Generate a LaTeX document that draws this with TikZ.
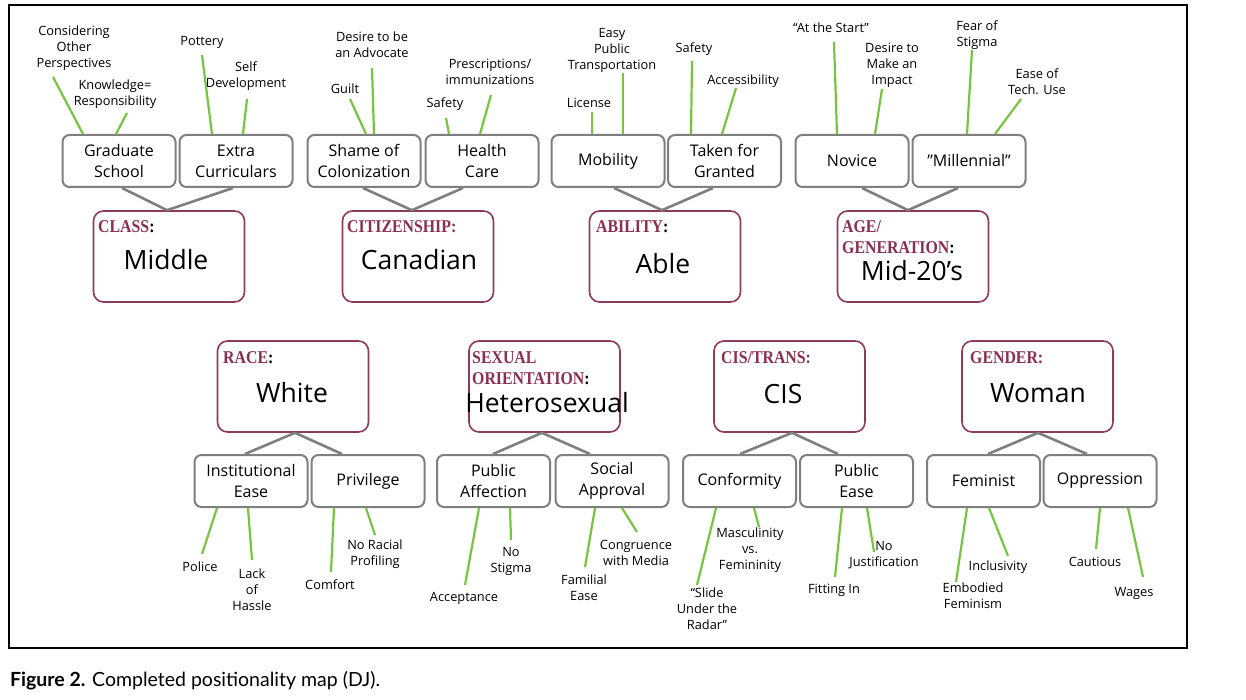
\documentclass[tikz,border=0pt]{standalone}
\usepackage{fontspec}
\setmainfont{Open Sans}
\newfontfamily\catfont[FakeStretch=0.88]{Liberation Serif}
\newfontfamily\capfont{Lato}
\usetikzlibrary{calc}
\definecolor{maroon}{HTML}{8E3A59}
\definecolor{catred}{HTML}{8B2F50}
\definecolor{boxgray}{HTML}{7F7F7F}
\definecolor{leafgreen}{HTML}{78C440}
\begin{document}
\begin{tikzpicture}[x=1pt,y=-1pt,
  catbox/.style={draw=maroon,line width=1.6pt,rounded corners=10pt,fill=white,minimum width=151pt,minimum height=91pt,inner sep=0pt},
  subbox/.style={draw=boxgray,line width=2pt,rounded corners=7pt,fill=white,minimum width=113pt,minimum height=52pt,inner sep=0pt,align=center,font=\fontsize{16}{21}\selectfont},
  cattitle/.style={anchor=base west,inner sep=0pt,font=\catfont\bfseries\fontsize{18}{21}\selectfont,text=catred,align=left},
  catvalue/.style={anchor=base,inner sep=0pt,font=\fontsize{26.5}{30}\selectfont},
  leaf/.style={align=center,inner sep=0pt,font=\fontsize{12.8}{16}\selectfont},
  leafline/.style={draw=leafgreen,line width=2.2pt},
  trunk/.style={draw=boxgray,line width=2.6pt}
]
\useasboundingbox (0,0) rectangle (1246,700);
\draw[line width=1.3pt] (9,5) rectangle (1187,648);

% category boxes
\node[catbox] (class) at (169,256.5) {};
\node[catbox] (cit) at (418,256.5) {};
\node[catbox] (abi) at (665,256.5) {};
\node[catbox] (age) at (913,256.5) {};
\node[catbox] (race) at (293,386.5) {};
\node[catbox] (sex) at (544.5,386.5) {};
\node[catbox] (cis) at (789.5,386.5) {};
\node[catbox] (gen) at (1037.5,386.5) {};

% category titles (base = baseline of last line)
\node[cattitle] (tclass) at (98,233) {CLASS\textcolor{black}{:}};
\node[cattitle] (tcit) at (347,233) {CITIZENSHIP:};
\node[cattitle] (tabi) at (596,233) {ABILITY\textcolor{black}{:}};
\node[cattitle] (tage) at (842,254) {AGE/\\GENERATION\textcolor{black}{:}};
\node[cattitle] (trace) at (223,363) {RACE\textcolor{black}{:}};
\node[cattitle] (tsex) at (472,384) {SEXUAL\\ORIENTATION\textcolor{black}{:}};
\node[cattitle] (tcis) at (721,363) {CIS/TRANS:};
\node[cattitle] (tgen) at (970,363) {GENDER:};

% category values
\node[catvalue] (vclass) at (166,270) {Middle};
\node[catvalue] (vcit) at (419,270) {Canadian};
\node[catvalue] (vabi) at (663,273) {Able};
\node[catvalue] (vage) at (912,280) {Mid-20’s};
\node[catvalue] (vrace) at (292,402) {White};
\node[catvalue] (vsex) at (547,412) {Heterosexual};
\node[catvalue] (vcis) at (783,403) {CIS};
\node[catvalue] (vgen) at (1038,402) {Woman};

% sub boxes
\node[subbox] (gs) at (119,161) {Graduate\\School};
\node[subbox] (ec) at (236,161) {Extra\\Curriculars};
\node[subbox] (sc) at (364,161) {Shame of\\Colonization};
\node[subbox] (hc) at (482,161) {Health\\Care};
\node[subbox] (mo) at (608,161) {Mobility};
\node[subbox] (tg) at (724.5,161) {Taken for\\Granted};
\node[subbox] (no) at (852,161) {Novice};
\node[subbox] (mi) at (969,161) {”Millennial”};
\node[subbox] (ie) at (251,481) {Institutional\\Ease};
\node[subbox] (pr) at (368,481) {Privilege};
\node[subbox] (pa) at (493.5,481) {Public\\Affection};
\node[subbox] (sa) at (612,481) {Social\\Approval};
\node[subbox] (co) at (739.5,481) {Conformity};
\node[subbox] (pe) at (856.5,481) {Public\\Ease};
\node[subbox] (fe) at (983.5,481) {Feminist};
\node[subbox] (op) at (1100,481) {Oppression};

% trunk connectors
\draw[trunk] (167,0 |- class.north) -- (122,0 |- gs.south);
\draw[trunk] (167,0 |- class.north) -- (233,0 |- ec.south);
\draw[trunk] (412,0 |- cit.north) -- (363,0 |- sc.south);
\draw[trunk] (412,0 |- cit.north) -- (463,0 |- hc.south);
\draw[trunk] (662,0 |- abi.north) -- (614,0 |- mo.south);
\draw[trunk] (662,0 |- abi.north) -- (713,0 |- tg.south);
\draw[trunk] (908,0 |- age.north) -- (862,0 |- no.south);
\draw[trunk] (908,0 |- age.north) -- (958,0 |- mi.south);
\draw[trunk] (295,0 |- race.south) -- (245,0 |- ie.north);
\draw[trunk] (295,0 |- race.south) -- (342,0 |- pr.north);
\draw[trunk] (542,0 |- sex.south) -- (493,0 |- pa.north);
\draw[trunk] (542,0 |- sex.south) -- (590,0 |- sa.north);
\draw[trunk] (792,0 |- cis.south) -- (740,0 |- co.north);
\draw[trunk] (792,0 |- cis.south) -- (838,0 |- pe.north);
\draw[trunk] (1038,0 |- gen.south) -- (988,0 |- fe.north);
\draw[trunk] (1038,0 |- gen.south) -- (1087,0 |- op.north);

% leaf labels
\node[leaf] (l1) at (74,48) {Considering\\Other\\Perspectives};
\node[leaf] (l2) at (115,94) {Knowledge=\\Responsibility};
\node[leaf] (l3) at (202,42) {Pottery};
\node[leaf] (l4) at (246,76) {Self\\Development};
\node[leaf] (l5) at (372,45) {Desire to be\\an Advocate};
\node[leaf] (l6) at (345,89) {Guilt};
\node[leaf] (l7) at (445,104) {Safety};
\node[leaf] (l8) at (490,72) {Prescriptions/\\immunizations};
\node[leaf] (l9) at (589,103) {License};
\node[leaf] (l10) at (612,50) {Easy\\Public\\Transportation};
\node[leaf] (l11) at (694,49) {Safety};
\node[leaf] (l12) at (743,81) {Accessibility};
\node[leaf] (l13) at (831,28) {“At the Start”};
\node[leaf] (l14) at (892,65) {Desire to\\Make an\\Impact};
\node[leaf] (l15) at (977,35) {Fear of\\Stigma};
\node[leaf] (l16) at (1037,82) {Ease of\\Tech. Use};
\node[leaf] (l17) at (200,567) {Police};
\node[leaf] (l18) at (252,590) {Lack\\of\\Hassle};
\node[leaf] (l19) at (330,585) {Comfort};
\node[leaf] (l20) at (375,554) {No Racial\\Profiling};
\node[leaf] (l21) at (464,598) {Acceptance};
\node[leaf] (l22) at (511,561) {No\\Stigma};
\node[leaf] (l23) at (584,588) {Familial\\Ease};
\node[leaf] (l24) at (636,553) {Congruence\\with Media};
\node[leaf] (l25) at (707,609) {“Slide\\Under the\\Radar”};
\node[leaf] (l26) at (750,550) {Masculinity\\vs.\\Femininity};
\node[leaf] (l27) at (834,590) {Fitting In};
\node[leaf] (l28) at (884,555) {No\\Justification};
\node[leaf] (l29) at (973,596) {Embodied\\Feminism};
\node[leaf] (l30) at (998,567) {Inclusivity};
\node[leaf] (l31) at (1095,562) {Cautious};
\node[leaf] (l32) at (1134,593) {Wages};

% free ends of leaf connectors
\coordinate (e1) at (53,77);
\coordinate (e2) at (127,113);
\coordinate (e3) at (202,55);
\coordinate (e4) at (247,99);
\coordinate (e5) at (372,68);
\coordinate (e6) at (350,99);
\coordinate (e7) at (446,118);
\coordinate (e8) at (491,95);
\coordinate (e9) at (592,112);
\coordinate (e10) at (623,73);
\coordinate (e11) at (692,61);
\coordinate (e12) at (736,88);
\coordinate (e13) at (834,42);
\coordinate (e14) at (882,89);
\coordinate (e15) at (972,50);
\coordinate (e16) at (1021,99);
\coordinate (e17) at (202,554);
\coordinate (e18) at (252,560);
\coordinate (e19) at (331,572);
\coordinate (e20) at (375,535);
\coordinate (e21) at (465,585);
\coordinate (e22) at (511,540);
\coordinate (e23) at (585,567);
\coordinate (e24) at (637,532);
\coordinate (e25) at (697,585);
\coordinate (e26) at (759,527);
\coordinate (e27) at (835,577);
\coordinate (e28) at (874,552);
\coordinate (e29) at (956,582);
\coordinate (e30) at (1008,556);
\coordinate (e31) at (1096,549);
\coordinate (e32) at (1143,577);

% leaf connectors
\draw[leafline] (83,0 |- gs.north) -- (e1);
\draw[leafline] (116,0 |- gs.north) -- (e2);
\draw[leafline] (212,0 |- ec.north) -- (e3);
\draw[leafline] (243,0 |- ec.north) -- (e4);
\draw[leafline] (374,0 |- sc.north) -- (e5);
\draw[leafline] (366,0 |- sc.north) -- (e6);
\draw[leafline] (449,0 |- hc.north) -- (e7);
\draw[leafline] (480,0 |- hc.north) -- (e8);
\draw[leafline] (592,0 |- mo.north) -- (e9);
\draw[leafline] (623,0 |- mo.north) -- (e10);
\draw[leafline] (691,0 |- tg.north) -- (e11);
\draw[leafline] (722,0 |- tg.north) -- (e12);
\draw[leafline] (837,0 |- no.north) -- (e13);
\draw[leafline] (875,0 |- no.north) -- (e14);
\draw[leafline] (967,0 |- mi.north) -- (e15);
\draw[leafline] (995,0 |- mi.north) -- (e16);
\draw[leafline] (217,0 |- ie.south) -- (e17);
\draw[leafline] (248,0 |- ie.south) -- (e18);
\draw[leafline] (334,0 |- pr.south) -- (e19);
\draw[leafline] (366,0 |- pr.south) -- (e20);
\draw[leafline] (479,0 |- pa.south) -- (e21);
\draw[leafline] (510,0 |- pa.south) -- (e22);
\draw[leafline] (595,0 |- sa.south) -- (e23);
\draw[leafline] (622,0 |- sa.south) -- (e24);
\draw[leafline] (716,0 |- co.south) -- (e25);
\draw[leafline] (754,0 |- co.south) -- (e26);
\draw[leafline] (842,0 |- pe.south) -- (e27);
\draw[leafline] (867,0 |- pe.south) -- (e28);
\draw[leafline] (967,0 |- fe.south) -- (e29);
\draw[leafline] (989,0 |- fe.south) -- (e30);
\draw[leafline] (1100,0 |- op.south) -- (e31);
\draw[leafline] (1128,0 |- op.south) -- (e32);

% caption
\node[anchor=base west,inner sep=0pt,font=\capfont\fontsize{19.5}{22}\selectfont] (cap) at (10,686) {\textbf{Figure 2.} Completed positionality map (DJ).};
\end{tikzpicture}
\end{document}
